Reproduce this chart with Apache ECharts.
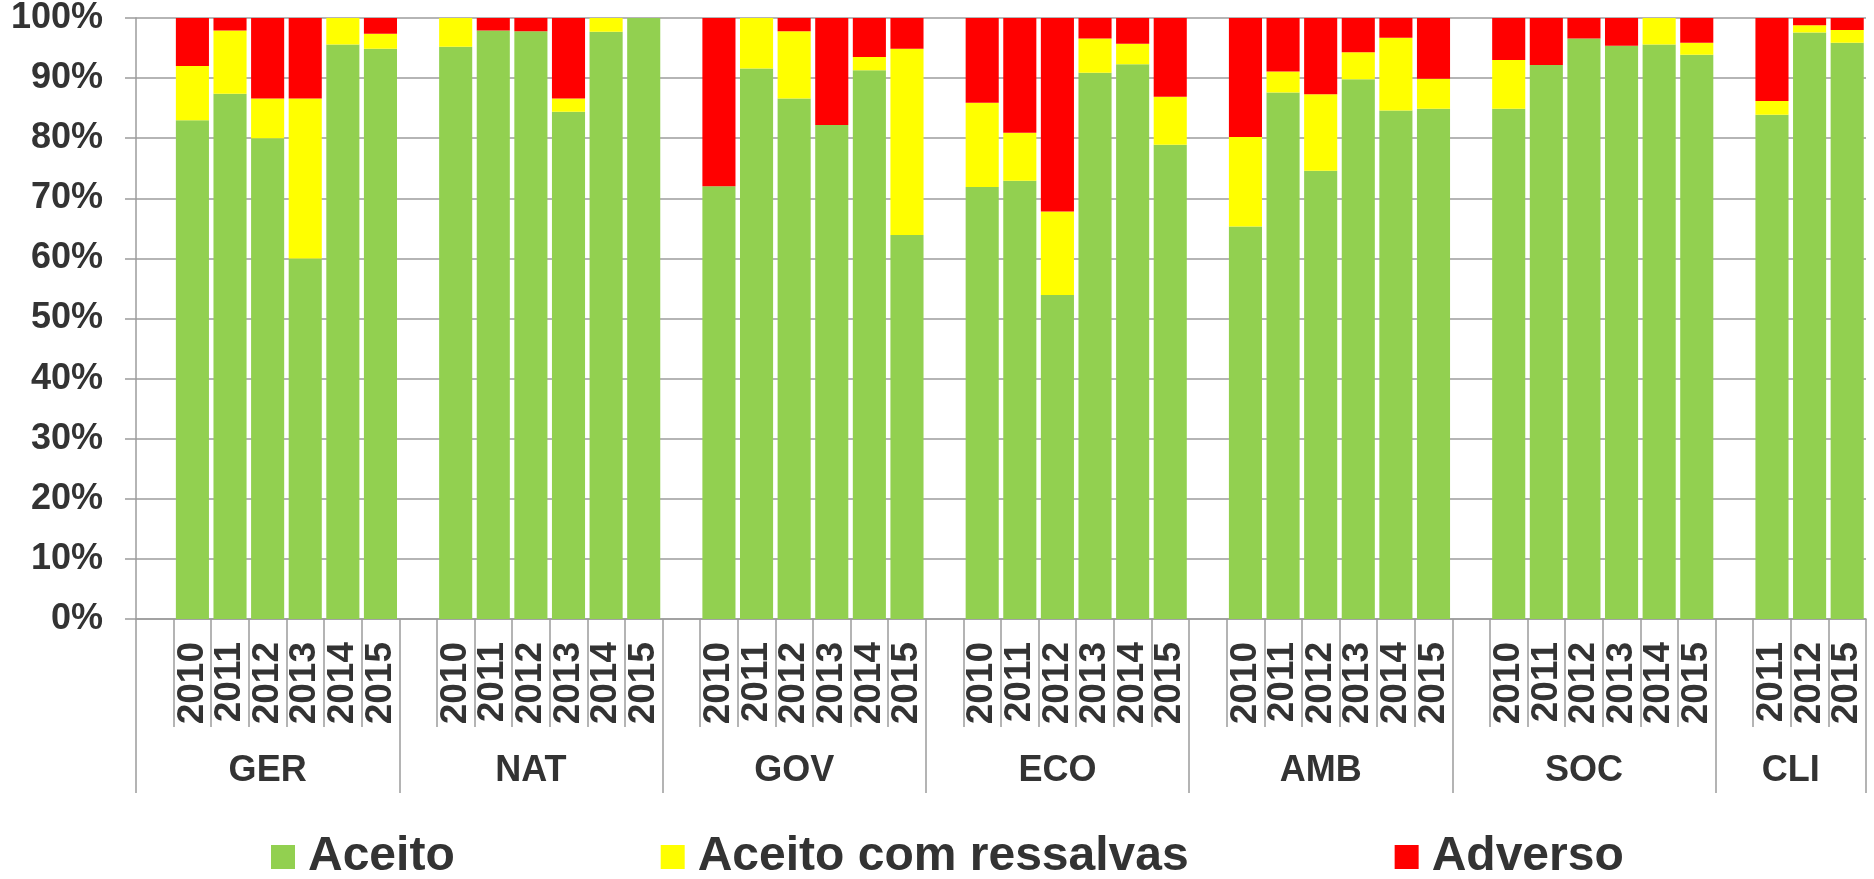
<!DOCTYPE html>
<html>
<head>
<meta charset="utf-8">
<script src="https://cdn.jsdelivr.net/npm/echarts@6/dist/echarts.min.js"></script>
<style>
  html, body { margin: 0; padding: 0; background: #fff; }
  #chart { width: 1874px; height: 879px; }
</style>
</head>
<body>
<div id="chart"></div>
<script>
// grupos e anos de cada grupo
const groups = ['GER', 'NAT', 'GOV', 'ECO', 'AMB', 'SOC', 'CLI'];
const groupYears = [
  ['2010', '2011', '2012', '2013', '2014', '2015'],
  ['2010', '2011', '2012', '2013', '2014', '2015'],
  ['2010', '2011', '2012', '2013', '2014', '2015'],
  ['2010', '2011', '2012', '2013', '2014', '2015'],
  ['2010', '2011', '2012', '2013', '2014', '2015'],
  ['2010', '2011', '2012', '2013', '2014', '2015'],
  ['2011', '2012', '2015']
];

// percentuais
const aceito = [
  [83, 87.4, 80, 60, 95.6, 94.9],
  [95.2, 97.9, 97.8, 84.4, 97.7, 100],
  [72, 91.6, 86.6, 82.2, 91.3, 63.9],
  [71.9, 72.9, 53.9, 90.9, 92.3, 78.9],
  [65.3, 87.6, 74.6, 89.8, 84.6, 84.9],
  [84.9, 92.2, 96.6, 95.4, 95.6, 93.9],
  [83.9, 97.6, 95.9]
];
const ressalvas = [
  [9, 10.5, 6.6, 26.6, 4.4, 2.5],
  [4.8, 0, 0, 2.2, 2.3, 0],
  [0, 8.4, 11.2, 0, 2.2, 31],
  [14, 8, 13.9, 5.7, 3.4, 8],
  [14.9, 3.5, 12.7, 4.5, 12.1, 5],
  [8.1, 0, 0, 0, 4.4, 2],
  [2.3, 1.2, 2.1]
];
const adverso = [
  [8, 2.1, 13.4, 13.4, 0, 2.6],
  [0, 2.1, 2.2, 13.4, 0, 0],
  [28, 0, 2.2, 17.8, 6.5, 5.1],
  [14.1, 19.1, 32.2, 3.4, 4.3, 13.1],
  [19.8, 8.9, 12.7, 5.7, 3.3, 10.1],
  [7, 7.8, 3.4, 4.6, 0, 4.1],
  [13.8, 1.2, 2]
];

const seriesNames = ['Aceito', 'Aceito com ressalvas', 'Adverso'];
const colors = ['#92D050', '#FFFF00', '#FF0000'];

// monta as categorias (uma vaga em branco no início de cada grupo)
const yearCats = [];
const groupCats = [];
const groupStarts = [];
const groupLabelIdx = {};
const flat = [[], [], []];
groups.forEach((g, gi) => {
  const start = yearCats.length;
  groupStarts.push(start);
  yearCats.push('');
  groupCats.push(g);
  flat.forEach(arr => arr.push(null));
  groupYears[gi].forEach((y, yi) => {
    yearCats.push(y);
    groupCats.push(g);
    flat[0].push(aceito[gi][yi]);
    flat[1].push(ressalvas[gi][yi]);
    flat[2].push(adverso[gi][yi]);
  });
  const n = groupYears[gi].length + 1;
  groupLabelIdx[start + Math.floor((n - 1) / 2)] = (n % 2 === 0);
});

const FONT = 'Liberation Sans, Arial, sans-serif';
const TXT = '#333333';
const LINE = '#9c9c9c';
const slotW = 1730 / yearCats.length;

const chart = echarts.init(document.getElementById('chart'));
chart.setOption({
  animation: false,
  grid: { left: 136, right: 8, top: 18, bottom: 260, containLabel: false },
  legend: {
    left: 266,
    top: 828,
    itemWidth: 24,
    itemHeight: 24,
    itemGap: 206,
    icon: 'rect',
    data: seriesNames,
    textStyle: { fontFamily: FONT, fontSize: 48, fontWeight: 'bold', color: TXT, padding: [0, 0, 0, 8] }
  },
  yAxis: {
    type: 'value',
    min: 0,
    max: 100,
    interval: 10,
    axisLine: { show: true, lineStyle: { color: LINE, width: 1.5 } },
    axisTick: { show: true, length: 11, lineStyle: { color: LINE, width: 1.5 } },
    axisLabel: {
      formatter: '{value}%',
      margin: 33,
      fontFamily: FONT, fontSize: 36, fontWeight: 'bold', color: TXT
    },
    splitLine: { lineStyle: { color: LINE, width: 1.5 } }
  },
  xAxis: [
    {
      type: 'category',
      data: yearCats,
      position: 'bottom',
      axisLine: { show: true, lineStyle: { color: LINE, width: 1.5 } },
      axisTick: { show: true, interval: 0, length: 108, lineStyle: { color: LINE, width: 1.5 } },
      axisLabel: {
        interval: 0,
        rotate: 90,
        margin: 23,
        fontFamily: FONT, fontSize: 37, fontWeight: 'bold', color: TXT
      }
    },
    {
      type: 'category',
      data: groupCats,
      position: 'bottom',
      axisLine: { show: false },
      axisTick: {
        show: true,
        length: 174,
        interval: (idx) => groupStarts.indexOf(idx) >= 0,
        lineStyle: { color: LINE, width: 1.5 }
      },
      axisLabel: {
        interval: (idx) => idx in groupLabelIdx,
        margin: 132,
        formatter: (value, idx) => groupLabelIdx[idx] ? '{s|' + value + '}' : '{g|' + value + '}',
        rich: {
          g: { fontFamily: FONT, fontSize: 36, fontWeight: 'bold', color: TXT, lineHeight: 40 },
          s: { fontFamily: FONT, fontSize: 36, fontWeight: 'bold', color: TXT, lineHeight: 40, padding: [0, 0, 0, slotW] }
        }
      },
      splitLine: { show: false }
    }
  ],
  series: seriesNames.map((name, i) => ({
    name: name,
    type: 'bar',
    stack: 'total',
    xAxisIndex: 0,
    barCategoryGap: '12%',
    itemStyle: { color: colors[i] },
    data: flat[i]
  }))
});
</script>
</body>
</html>
